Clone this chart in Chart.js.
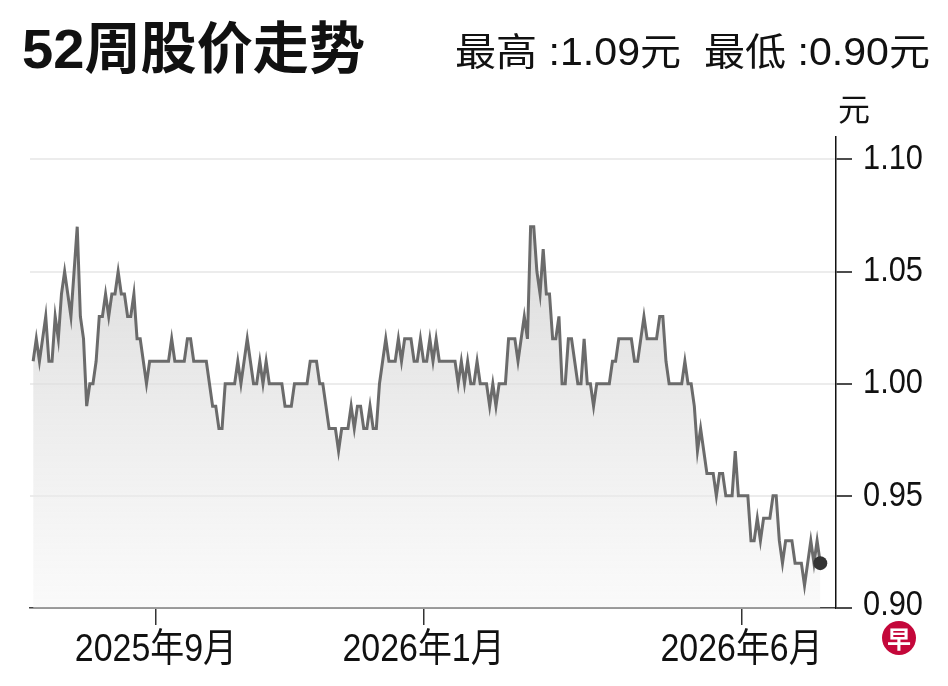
<!DOCTYPE html>
<html><head><meta charset="utf-8">
<script src="https://cdn.jsdelivr.net/npm/chart.js@4.4.1/dist/chart.umd.min.js"></script>
<style>
html,body{margin:0;padding:0;background:#fff;}
#wrap{position:relative;width:948px;height:686px;overflow:hidden;background:#fff;}
#c{position:absolute;left:0;top:0;}
.t{position:absolute;white-space:nowrap;transform-origin:0 50%;color:#111;line-height:1;}
#title{left:22px;top:3px;font:bold 56px "Liberation Sans","Noto Sans CJK SC",sans-serif;}
#sub{left:455px;top:21px;font:38px "Liberation Sans","Noto Sans CJK SC",sans-serif;}
#unit{left:838px;top:84px;font:32px "Noto Sans CJK SC",sans-serif;}
#logo{position:absolute;left:882px;top:621px;width:34px;height:34px;border-radius:50%;background:#c4073a;color:#fff;font:bold 24px "Noto Sans CJK SC",sans-serif;text-align:center;line-height:34px;}
</style></head><body>
<div id="wrap">
<canvas id="c" width="948" height="686"></canvas>
<div class="t" id="title">52周股价走势</div>
<div class="t" id="sub">最高 :1.09元&nbsp;&nbsp;最低 :0.90元</div>
<div class="t" id="unit">元</div>
<div id="logo">早</div>
</div>
<script>
// daily closing prices (元), 52 weeks
const priceValues = [
1.01,1.02,1.01,1.02,1.03,1.01,1.01,1.03,1.02,1.04,
1.05,1.04,1.03,1.05,1.07,1.03,1.02,0.99,1.00,1.00,
1.01,1.03,1.03,1.04,1.03,1.04,1.04,1.05,1.04,1.04,
1.03,1.03,1.04,1.02,1.02,1.01,1.00,1.01,1.01,1.01,
1.01,1.01,1.01,1.01,1.02,1.01,1.01,1.01,1.01,1.02,
1.02,1.01,1.01,1.01,1.01,1.01,1.00,0.99,0.99,0.98,
0.98,1.00,1.00,1.00,1.00,1.01,1.00,1.01,1.02,1.01,
1.00,1.00,1.01,1.00,1.01,1.00,1.00,1.00,1.00,1.00,
0.99,0.99,0.99,1.00,1.00,1.00,1.00,1.00,1.01,1.01,
1.01,1.00,1.00,0.99,0.98,0.98,0.98,0.97,0.98,0.98,
0.98,0.99,0.98,0.99,0.99,0.98,0.98,0.99,0.98,0.98,
1.00,1.01,1.02,1.01,1.01,1.01,1.02,1.01,1.02,1.02,
1.02,1.01,1.01,1.02,1.01,1.01,1.02,1.01,1.02,1.01,
1.01,1.01,1.01,1.01,1.01,1.00,1.01,1.00,1.01,1.00,
1.00,1.01,1.00,1.00,1.00,0.99,1.00,0.99,1.00,1.00,
1.00,1.02,1.02,1.02,1.01,1.02,1.03,1.02,1.07,1.07,
1.05,1.04,1.06,1.04,1.04,1.02,1.02,1.03,1.00,1.00,
1.02,1.02,1.01,1.00,1.00,1.02,1.00,1.00,0.99,1.00,
1.00,1.00,1.00,1.00,1.01,1.01,1.02,1.02,1.02,1.02,
1.02,1.01,1.01,1.02,1.03,1.02,1.02,1.02,1.02,1.03,
1.03,1.01,1.00,1.00,1.00,1.00,1.00,1.01,1.00,1.00,
0.99,0.97,0.98,0.97,0.96,0.96,0.96,0.95,0.96,0.96,
0.95,0.95,0.95,0.97,0.95,0.95,0.95,0.95,0.93,0.93,
0.94,0.93,0.94,0.94,0.94,0.95,0.95,0.93,0.92,0.93,
0.93,0.93,0.92,0.92,0.92,0.91,0.92,0.93,0.92,0.93,
0.92
];
const xTickPos = [39, 124, 225];
const xTickLabels = ['2025年9月', '2026年1月', '2026年6月'];
const yTickValues = [0.90, 0.95, 1.00, 1.05, 1.10];

function fitWidth(id, w){
  const el = document.getElementById(id);
  const r = el.getBoundingClientRect().width;
  el.style.transform = 'scaleX(' + (w / r) + ')';
}
fitWidth('title', 343);
fitWidth('sub', 475);

const pts = priceValues.map((v, i) => ({x: i, y: v}));
const radii = priceValues.map((v, i) => i === priceValues.length - 1 ? 7 : 0);

// draws tick labels slightly condensed, at positions from the chart's scales
const condensedLabels = {
  id: 'condensedLabels',
  afterDraw(chart) {
    const ctx = chart.ctx;
    const xs = chart.scales.x, ys = chart.scales.y;
    ctx.save();
    ctx.fillStyle = '#111';
    ctx.textBaseline = 'middle';
    ctx.font = '35px "Liberation Sans"';
    ctx.textAlign = 'left';
    ys.ticks.forEach(t => {
      const y = ys.getPixelForValue(t.value);
      const dy = t.value === 0.90 ? -3 : 0;
      ctx.save();
      ctx.translate(xs.right + 27, y + dy);
      ctx.scale(0.88, 1);
      ctx.fillText(Number(t.value).toFixed(2), 0, 0);
      ctx.restore();
    });
    ctx.font = '39px "Liberation Sans","Noto Sans CJK SC"';
    ctx.textAlign = 'center';
    xs.ticks.forEach(t => {
      const i = xTickPos.indexOf(t.value);
      if (i < 0) return;
      const x = xs.getPixelForValue(t.value);
      ctx.save();
      ctx.translate(x, xs.top + 42);
      ctx.scale(0.87, 1);
      ctx.fillText(xTickLabels[i], 0, 0);
      ctx.restore();
    });
    ctx.restore();
  }
};

new Chart(document.getElementById('c'), {
  type: 'line',
  data: {
    datasets: [{
      data: pts,
      borderColor: '#6b6b6b',
      borderWidth: 3,
      tension: 0,
      pointRadius: radii,
      pointHoverRadius: radii,
      pointBackgroundColor: '#333',
      pointBorderColor: '#333',
      pointBorderWidth: 0,
      fill: 'start',
      backgroundColor: (ctx) => {
        const a = ctx.chart.chartArea;
        if (!a) return 'rgba(220,220,220,0.6)';
        const g = ctx.chart.ctx.createLinearGradient(0, a.top + 80, 0, a.bottom);
        g.addColorStop(0, 'rgba(205,205,205,0.75)');
        g.addColorStop(1, 'rgba(245,245,245,0.5)');
        return g;
      }
    }]
  },
  plugins: [condensedLabels],
  options: {
    responsive: false,
    animation: false,
    events: [],
    layout: {padding: {left: 30, top: 137, right: 0, bottom: 0}},
    plugins: {legend: {display: false}, tooltip: {enabled: false}},
    scales: {
      x: {
        type: 'linear',
        min: -1,
        max: 255,
        afterBuildTicks: (s) => { s.ticks = xTickPos.map(v => ({value: v})); },
        afterFit: (s) => { s.height = 78; },
        ticks: {display: false},
        grid: {drawOnChartArea: false, drawTicks: true, tickLength: 17, tickColor: '#333', lineWidth: 1.5},
        border: {color: '#444', width: 1.5}
      },
      y: {
        position: 'right',
        min: 0.90,
        max: 1.11,
        afterBuildTicks: (s) => { s.ticks = yTickValues.map(v => ({value: v})); },
        afterFit: (s) => { s.width = 112; },
        ticks: {display: false},
        grid: {color: '#ececec', lineWidth: 2, drawTicks: true, tickLength: 16, tickColor: '#111', tickWidth: 1.5},
        border: {color: '#111', width: 1.5}
      }
    }
  }
});
</script>
</body></html>
